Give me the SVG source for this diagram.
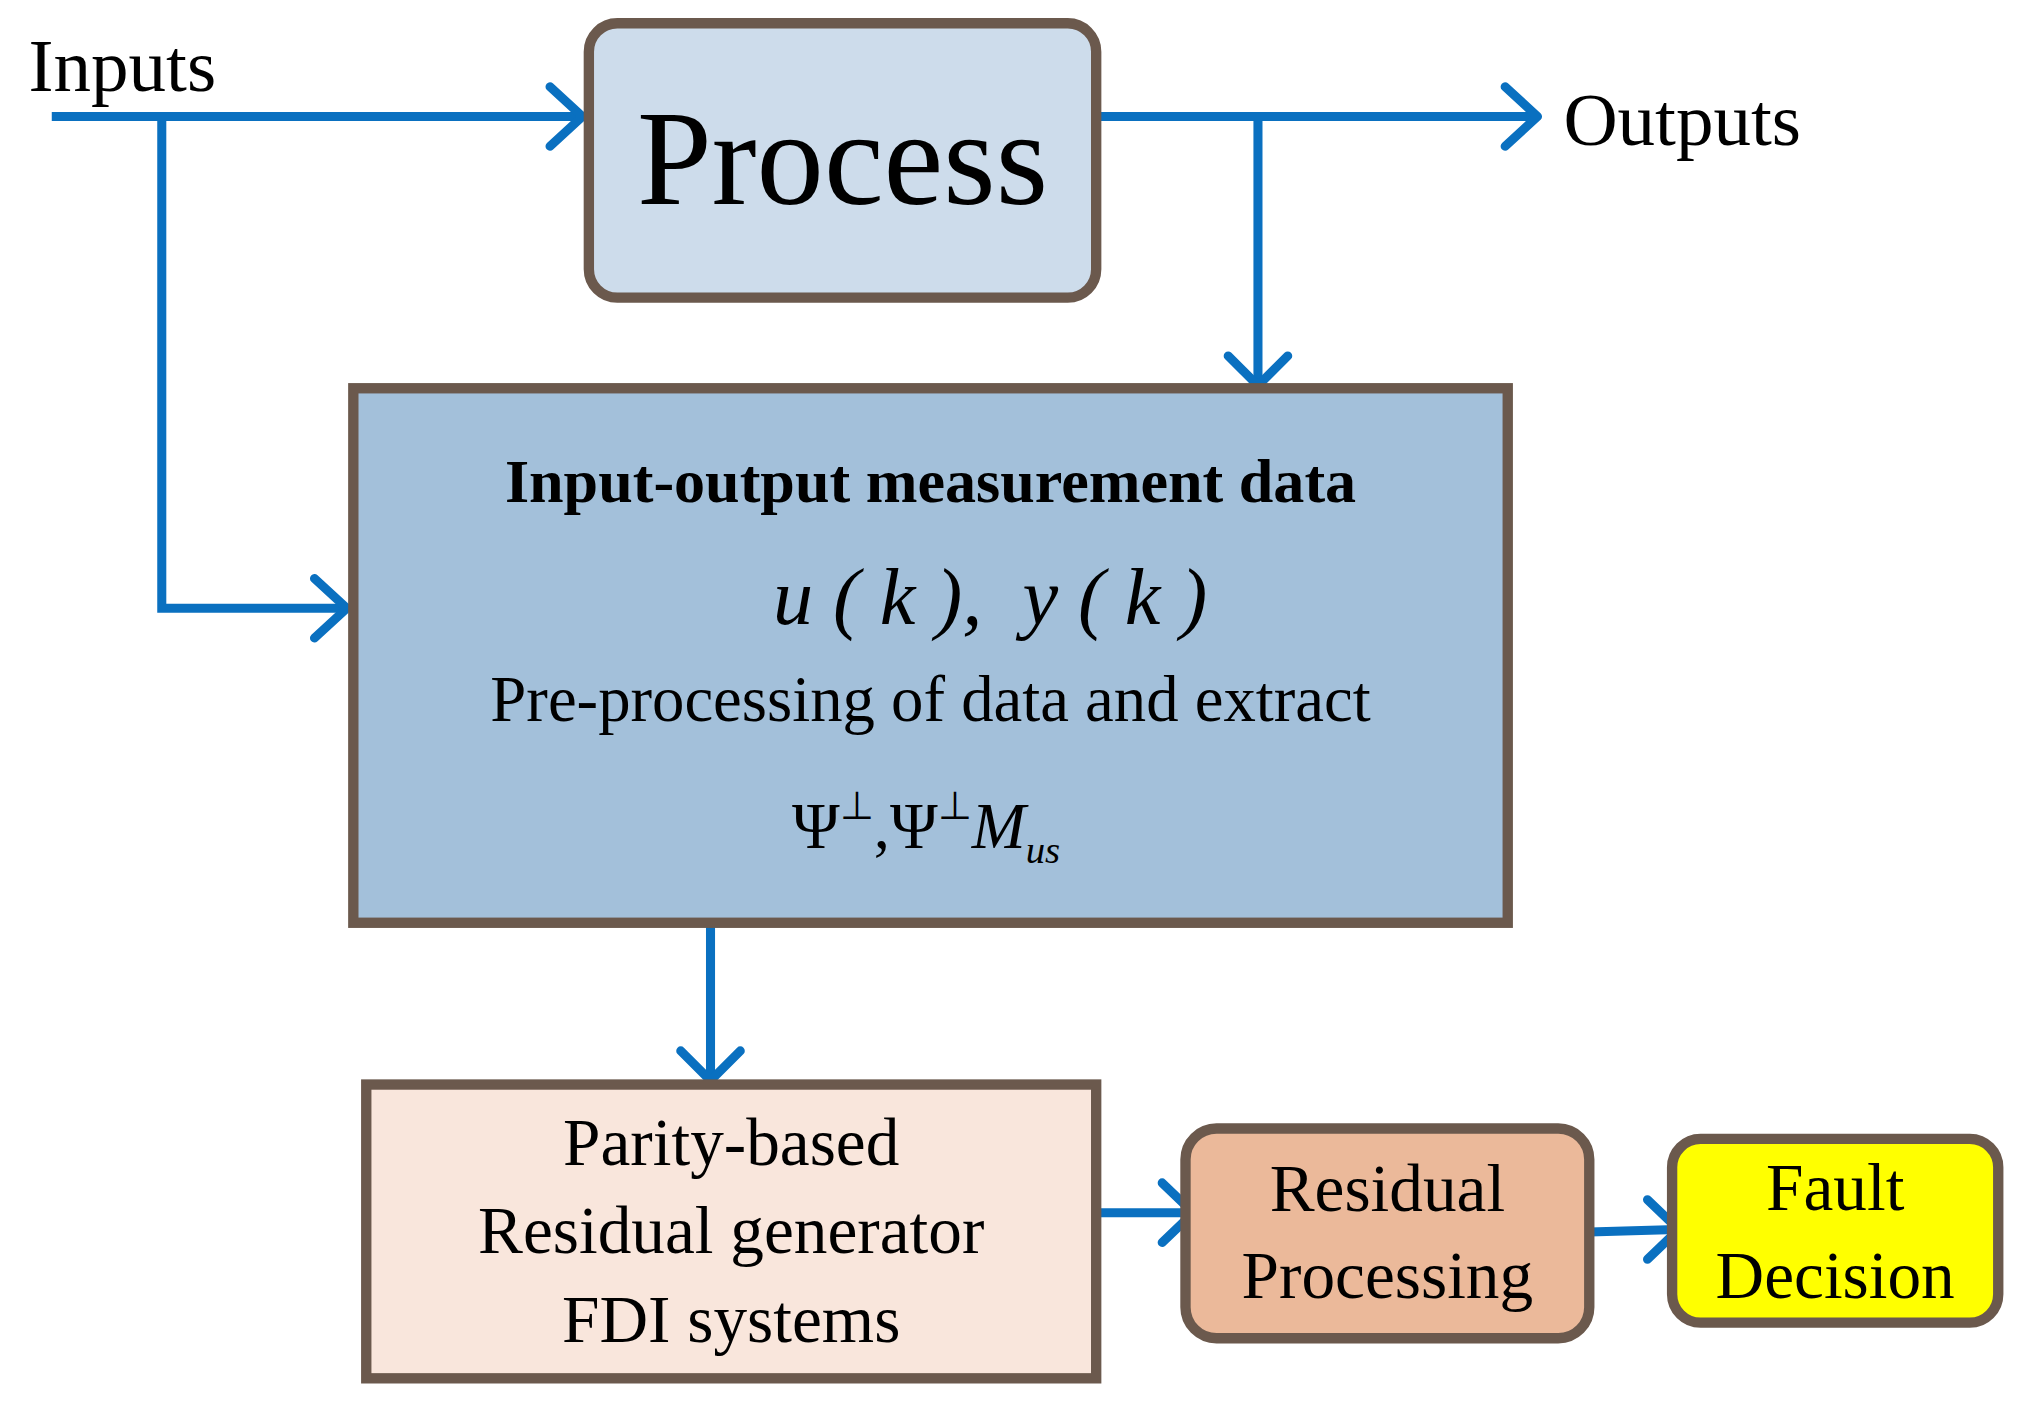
<svg xmlns="http://www.w3.org/2000/svg" width="2019" height="1402" viewBox="0 0 2019 1402">
<defs>
<style>
.box{stroke:#6b594d;stroke-width:8}
.ln{fill:none;stroke:#0a70c0;stroke-width:7}
.hd{fill:none;stroke:#0a70c0;stroke-width:7;stroke-linecap:round;stroke-linejoin:round}
text{font-family:"Liberation Serif","Times New Roman",serif;fill:#000;text-anchor:middle}
</style>
</defs>
<rect width="2019" height="1402" fill="#fff"/>
<g transform="scale(1.2942)">
<g id="connectors">
<path class="ln" d="M40 90H448M125 90V470H266M847 90H1186M972 90V296M549 713V832M847 937H920M1228 952L1295 950"/>
<path class="hd" d="M425 67L450 90L425 113M243 447L268 470L243 493M1163 67L1188 90L1163 113M949 275L972 298L995 275M526 812L549 835L572 812M898 914L922 937L898 960M1273 927L1297 950L1273 973"/>
</g>
<g id="inputs-label"><text x="22" y="70" style="text-anchor:start;font-size:58px">Inputs</text></g>
<g id="outputs-label"><text x="1208" y="112" style="text-anchor:start;font-size:58px">Outputs</text></g>
<g id="process">
<rect class="box" x="455" y="18" width="392" height="212" rx="22" fill="#cddceb"/>
<text x="651" y="158" style="font-size:104px">Process</text>
</g>
<g id="measurement">
<rect class="box" x="273" y="300" width="892" height="413" fill="#a3c0da"/>
<text x="719" y="388" style="font-size:48px;font-weight:bold">Input-output measurement data</text>
<text x="765" y="482" style="font-size:62px;font-style:italic" xml:space="preserve">u ( k ),  y ( k )</text>
<text x="719" y="557" style="font-size:50px">Pre-processing of data and extract</text>
<text x="612" y="655" style="font-size:50px;text-anchor:start">Ψ<tspan dy="-22" font-size="30">⊥</tspan><tspan dy="22">,Ψ</tspan><tspan dy="-22" font-size="30">⊥</tspan><tspan dy="22" font-style="italic">M</tspan><tspan dy="12" font-size="30" font-style="italic">us</tspan></text>
</g>
<g id="parity">
<rect class="box" x="283" y="838" width="564" height="227" fill="#f9e6dc"/>
<text x="565" y="900" style="font-size:52px">Parity-based</text>
<text x="565" y="968" style="font-size:52px">Residual generator</text>
<text x="565" y="1037" style="font-size:52px">FDI systems</text>
</g>
<g id="residual">
<rect class="box" x="916" y="872" width="312" height="162" rx="24" fill="#ebb99a"/>
<text x="1072" y="936" style="font-size:52px">Residual</text>
<text x="1072" y="1003" style="font-size:52px">Processing</text>
</g>
<g id="fault">
<rect class="box" x="1292" y="880" width="252" height="142" rx="22" fill="#ffff00"/>
<text x="1418" y="935" style="font-size:52px">Fault</text>
<text x="1418" y="1003" style="font-size:52px">Decision</text>
</g>
</g>
</svg>
